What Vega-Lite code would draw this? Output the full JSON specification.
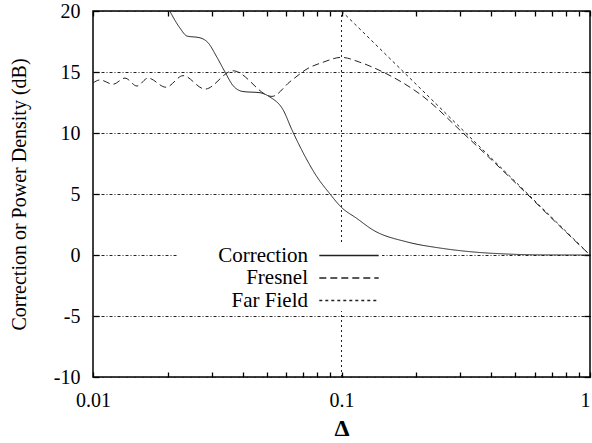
{
  "$schema": "https://vega.github.io/schema/vega-lite/v6.json",
  "width": 497,
  "height": 366,
  "autosize": "none",
  "padding": {"left": 93, "top": 11, "right": 2, "bottom": 66},
  "background": "white",
  "config": {
    "view": {"stroke": "black", "strokeWidth": 1.5},
    "font": "Times New Roman",
    "axis": {"labelFont": "Times New Roman", "titleFont": "Times New Roman", "labelColor": "black", "titleColor": "black", "tickColor": "black", "domain": false},
    "legend": {"labelFont": "Times New Roman"}
  },
  "datasets": {
    "curves": [
      {"series": "Correction", "x": 0.0200, "y": 20.3},
      {"series": "Correction", "x": 0.02239, "y": 18.6},
      {"series": "Correction", "x": 0.02388, "y": 17.95},
      {"series": "Correction", "x": 0.02696, "y": 17.8},
      {"series": "Correction", "x": 0.02904, "y": 17.4},
      {"series": "Correction", "x": 0.03155, "y": 16.2},
      {"series": "Correction", "x": 0.03398, "y": 15.0},
      {"series": "Correction", "x": 0.03656, "y": 13.9},
      {"series": "Correction", "x": 0.04015, "y": 13.4},
      {"series": "Correction", "x": 0.04699, "y": 13.3},
      {"series": "Correction", "x": 0.05152, "y": 12.95},
      {"series": "Correction", "x": 0.0582, "y": 11.9},
      {"series": "Correction", "x": 0.0632, "y": 10.25},
      {"series": "Correction", "x": 0.0700, "y": 8.4},
      {"series": "Correction", "x": 0.0797, "y": 6.4},
      {"series": "Correction", "x": 0.0891, "y": 5.1},
      {"series": "Correction", "x": 0.1, "y": 3.9},
      {"series": "Correction", "x": 0.1152, "y": 3.0},
      {"series": "Correction", "x": 0.1339, "y": 2.05},
      {"series": "Correction", "x": 0.1836, "y": 1.07},
      {"series": "Correction", "x": 0.2491, "y": 0.57},
      {"series": "Correction", "x": 0.3383, "y": 0.25},
      {"series": "Correction", "x": 0.4634, "y": 0.08},
      {"series": "Correction", "x": 0.6295, "y": 0.01},
      {"series": "Correction", "x": 1.0, "y": 0.0},
      {"series": "Fresnel", "x": 0.0100, "y": 14.1},
      {"series": "Fresnel", "x": 0.01067, "y": 14.35},
      {"series": "Fresnel", "x": 0.01203, "y": 14.0},
      {"series": "Fresnel", "x": 0.01345, "y": 14.5},
      {"series": "Fresnel", "x": 0.01503, "y": 13.85},
      {"series": "Fresnel", "x": 0.01664, "y": 14.5},
      {"series": "Fresnel", "x": 0.01967, "y": 13.75},
      {"series": "Fresnel", "x": 0.02303, "y": 14.7},
      {"series": "Fresnel", "x": 0.02823, "y": 13.6},
      {"series": "Fresnel", "x": 0.03656, "y": 15.1},
      {"series": "Fresnel", "x": 0.05248, "y": 13.0},
      {"series": "Fresnel", "x": 0.0620, "y": 14.2},
      {"series": "Fresnel", "x": 0.0681, "y": 14.85},
      {"series": "Fresnel", "x": 0.0713, "y": 15.15},
      {"series": "Fresnel", "x": 0.0843, "y": 15.8},
      {"series": "Fresnel", "x": 0.1, "y": 16.2},
      {"series": "Fresnel", "x": 0.1185, "y": 15.8},
      {"series": "Fresnel", "x": 0.1468, "y": 15.0},
      {"series": "Fresnel", "x": 0.2128, "y": 13.0},
      {"series": "Fresnel", "x": 0.3083, "y": 10.0},
      {"series": "Fresnel", "x": 0.574, "y": 4.75},
      {"series": "Fresnel", "x": 0.710, "y": 2.9},
      {"series": "Fresnel", "x": 1.0, "y": 0.0},
      {"series": "Far Field", "x": 0.1, "y": 20.0},
      {"series": "Far Field", "x": 1.0, "y": 0.0}
    ]
  },
  "resolve": {"axis": {"x": "independent", "y": "independent"}},
  "layer": [
    {
      "data": {"values": [{}]},
      "mark": {"type": "rule", "strokeDash": [2, 3], "color": "#222", "strokeWidth": 1},
      "encoding": {
        "x": {
          "datum": 0.1, "type": "quantitative",
          "scale": {"type": "log", "domain": [0.01, 1], "nice": false},
          "axis": {
            "orient": "top", "title": null, "labels": false, "grid": false,
            "values": [0.01,0.02,0.03,0.04,0.05,0.06,0.07,0.08,0.09,0.1,0.2,0.3,0.4,0.5,0.6,0.7,0.8,0.9,1],
            "tickSize": -5, "tickWidth": 1.3
          }
        },
        "y": {
          "datum": -10, "type": "quantitative",
          "scale": {"domain": [-10, 20], "nice": false},
          "axis": {"orient": "right", "title": null, "labels": false, "grid": false, "values": [-10,-5,0,5,10,15,20], "tickSize": -6, "tickWidth": 1.3}
        },
        "y2": {"datum": 20}
      }
    },
    {
      "data": {"name": "curves"},
      "mark": {"type": "line", "color": "#222", "strokeWidth": 1, "interpolate": "monotone", "clip": true},
      "encoding": {
        "x": {
          "field": "x", "type": "quantitative",
          "scale": {"type": "log", "domain": [0.01, 1], "nice": false},
          "axis": {
            "orient": "bottom", "title": "Δ", "titleFont": "Times New Roman", "titleFontSize": 24, "titleFontWeight": "bold", "titlePadding": 6,
            "grid": false,
            "values": [0.01,0.02,0.03,0.04,0.05,0.06,0.07,0.08,0.09,0.1,0.2,0.3,0.4,0.5,0.6,0.7,0.8,0.9,1],
            "labelExpr": "abs(log(datum.value)/LN10 - round(log(datum.value)/LN10)) < 1e-6 ? ('' + datum.value) : ''",
            "labelAlign": {"condition": {"test": "datum.value >= 0.999", "value": "right"}, "value": "center"},
            "labelFont": "Times New Roman", "labelFontSize": 20, "labelPadding": 18, "tickSize": -5, "tickWidth": 1.3, "labelFlush": false, "labelOverlap": false
          }
        },
        "y": {
          "field": "y", "type": "quantitative",
          "scale": {"domain": [-10, 20], "nice": false},
          "axis": {
            "orient": "left", "title": "Correction or Power Density (dB)", "titleFont": "Times New Roman", "titleFontSize": 20, "titleFontWeight": "normal", "titlePadding": 24,
            "values": [-10,-5,0,5,10,15,20], "labelExpr": "'' + datum.value",
            "labelFont": "Times New Roman", "labelFontSize": 20, "labelPadding": 19, "tickSize": -6, "tickWidth": 1.3,
            "grid": true, "gridDash": [3, 2, 1, 2], "gridColor": "#222", "gridWidth": 1, "gridOpacity": 1, "labelFlush": false
          }
        },
        "strokeDash": {
          "field": "series", "type": "nominal",
          "scale": {"domain": ["Correction", "Fresnel", "Far Field"], "range": [[1, 0], [7, 4], [3, 3]]},
          "legend": {
            "orient": "none", "legendX": 85, "legendY": 234, "title": null,
            "fillColor": "white", "padding": 0, "zindex": 1,
            "symbolType": "M-3.3,0H3.3", "symbolSize": 324, "symbolStrokeWidth": 1.3, "symbolStrokeColor": "#222",
            "symbolOffset": 160.5,
            "labelAlign": "right", "labelOffset": -51.5, "labelFont": "Times New Roman", "labelFontSize": 21, "labelColor": "black",
            "rowPadding": 0.5
          }
        }
      }
    }
  ]
}
